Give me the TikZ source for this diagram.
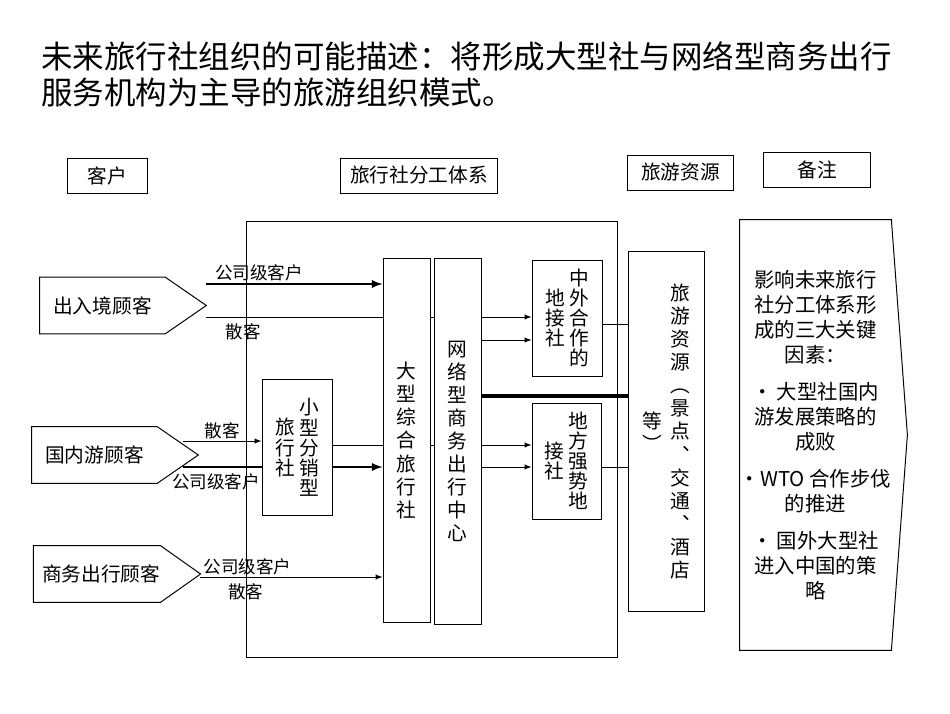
\documentclass[tikz,border=0pt]{standalone}
\usepackage{fontspec}
\setmainfont{Noto Sans CJK SC}
\usetikzlibrary{arrows}

% one column of upright characters, fixed line pitch
\newcommand{\vstack}[1]{$\vcenter{\let\\\cr\lineskiplimit=-\maxdimen\halign{\hfil##\hfil\cr#1\crcr}}$}

\tikzset{
  toptext/.style={anchor=north west, align=left, inner sep=0pt, font=\fontsize{22.4}{25.6}\selectfont},
  hdrbox/.style={draw, line width=0.7pt, minimum height=0.875cm, inner sep=0pt, font=\fontsize{14}{16.4}\selectfont},
  orgbox/.style={draw, line width=0.7pt, fill=white, inner sep=0pt, font=\fontsize{14}{16.4}\selectfont},
  smallbox/.style={orgbox, font=\fontsize{14}{14.3}\selectfont},
  custbox/.style={minimum width=3.125cm, minimum height=1.4cm, inner sep=0pt, font=\fontsize{14}{16.4}\selectfont},
  notebox/.style={minimum width=3.575cm, minimum height=10.75cm, inner sep=0pt, align=center, font=\fontsize{14.5}{17.8}\selectfont},
  lbltext/.style={inner sep=1pt, font=\fontsize{12.5}{14}\selectfont},
  flowline/.style={line width=0.7pt},
  mainflow/.style={line width=1.6pt},
}

\begin{document}
\begin{tikzpicture}[x=0.025cm, y=-0.025cm, >=latex]
    \useasboundingbox (0,0) rectangle (950,713);

    \node [toptext] (ttl) at (41,41) {未来旅行社组织的可能描述：将形成大型社与网络型商务出行\\服务机构为主导的旅游组织模式。};

    % column heads
    \node [hdrbox, minimum width=1.975cm] (kh) at (107.5,175.5) {客户};
    \node [hdrbox, minimum width=3.9cm] (tx) at (419,175.5) {旅行社分工体系};
    \node [hdrbox, minimum width=2.625cm] (zyh) at (680.5,172.5) {旅游资源};
    \node [hdrbox, minimum width=2.65cm] (bz) at (817,169.5) {备注};

    \draw [flowline] (246,221) rectangle (617,657);

    % customers
    \node [custbox] (cbj) at (102.5,305.5) {出入境顾客};
    \draw [flowline] (cbj.north west) -- (cbj.north east) -- ([xshift=1.025cm]cbj.east) -- (cbj.south east) -- (cbj.south west) -- cycle;
    \node [custbox] (gn) at (94.5,455) {国内游顾客};
    \draw [flowline] (gn.north west) -- (gn.north east) -- ([xshift=1.025cm]gn.east) -- (gn.south east) -- (gn.south west) -- cycle;
    \node [custbox, minimum width=3.15cm] (sw) at (97,574) {\hspace{6pt}商务出行顾客};
    \draw [flowline] (sw.north west) -- (sw.north east) -- ([xshift=1cm]sw.east) -- (sw.south east) -- (sw.south west) -- cycle;

    % agencies
    \node [smallbox, minimum width=1.75cm, minimum height=3.375cm] (xs) at (297,447.5) {\vstack{旅\\行\\社}\hspace{3pt}\vstack{小\\型\\分\\销\\型}};
    \node [orgbox, minimum width=1.175cm, minimum height=9.075cm] (dx) at (406.5,440.5) {\vstack{大\\型\\综\\合\\旅\\行\\社}};
    \node [orgbox, minimum width=1.175cm, minimum height=9.125cm] (wl) at (457.5,441.5) {\vstack{网\\络\\型\\商\\务\\出\\行\\中\\心}};
    \node [smallbox, minimum width=1.75cm, minimum height=2.9cm] (zw) at (567,318) {\vstack{地\\接\\社}\hspace{3pt}\vstack{中\\外\\合\\作\\的}};
    \node [smallbox, minimum width=1.725cm, minimum height=2.9cm] (df) at (566.5,461) {\vstack{接\\社}\hspace{3pt}\vstack{地\\方\\强\\势\\地}};
    \node [orgbox, minimum width=1.9cm, minimum height=8.975cm] (zy) at (666,431.5) {\vstack{等\\︶}\hspace{6pt}\vstack{旅\\游\\资\\源\\︵\\景\\点\\︑\\交\\通\\︑\\酒\\店}};

    % notes
    \node [notebox] (note) at (815.5,435) {影响未来旅行\\社分工体系形\\成的三大关键\\因素：\\[8.5pt]• 大型社国内\\游发展策略的\\成败\\[8.5pt]•WTO 合作步伐\\的推进\\[8.5pt]• 国外大型社\\进入中国的策\\略};
    \draw [flowline] (note.north west) -- (note.north east) -- ([xshift=0.4cm]note.east) -- (note.south east) -- (note.south west) -- cycle;

    % flows
    \coordinate (c1) at (206,284);
    \coordinate (c2) at (206,317);
    \draw [mainflow, ->] (c1) -- (dx.west |- c1) node [lbltext, pos=0.3, above] {公司级客户};
    \draw [flowline] (c2) -- (dx.west |- c2) node [lbltext, pos=0.21, below=3pt] {散客};
    \draw [flowline] (dx.east |- c2) -- (wl.west |- c2);
    \draw [flowline, ->] (wl.east |- c2) -- (zw.west |- c2);

    \coordinate (g1) at (183,441);
    \coordinate (g2) at (183,467);
    \draw [flowline, ->] (g1) -- (xs.west |- g1) node [lbltext, pos=0.5, above] {散客};
    \draw [mainflow] (g2) -- (xs.west |- g2) node [lbltext, pos=0.42, below=3pt] {公司级客户};
    \draw [mainflow, ->] (xs.east |- g2) -- (dx.west |- g2);

    \coordinate (c5) at (200,577);
    \draw [flowline, ->] (c5) -- (dx.west |- c5) node [lbltext, pos=0.26, above] {公司级客户} node [lbltext, pos=0.25, below=3pt] {散客};

    \coordinate (s1) at (0,445);
    \coordinate (s2) at (0,340);
    \coordinate (s3) at (0,396);
    \coordinate (s4) at (0,324);
    \draw [flowline] (xs.east |- s1) -- (dx.west |- s1);
    \draw [flowline] (dx.east |- s1) -- (wl.west |- s1);
    \draw [flowline, ->] (wl.east |- s1) -- (df.west |- s1);
    \draw [flowline, ->] (wl.east |- g2) -- (df.west |- g2);
    \draw [flowline, ->] (wl.east |- s2) -- (zw.west |- s2);
    \draw [line width=2.2pt] (wl.east |- s3) -- (zy.west |- s3);
    \draw [flowline] (zw.east |- s4) -- (zy.west |- s4);
    \draw [flowline] (df.east |- g2) -- (zy.west |- g2);
\end{tikzpicture}
\end{document}
